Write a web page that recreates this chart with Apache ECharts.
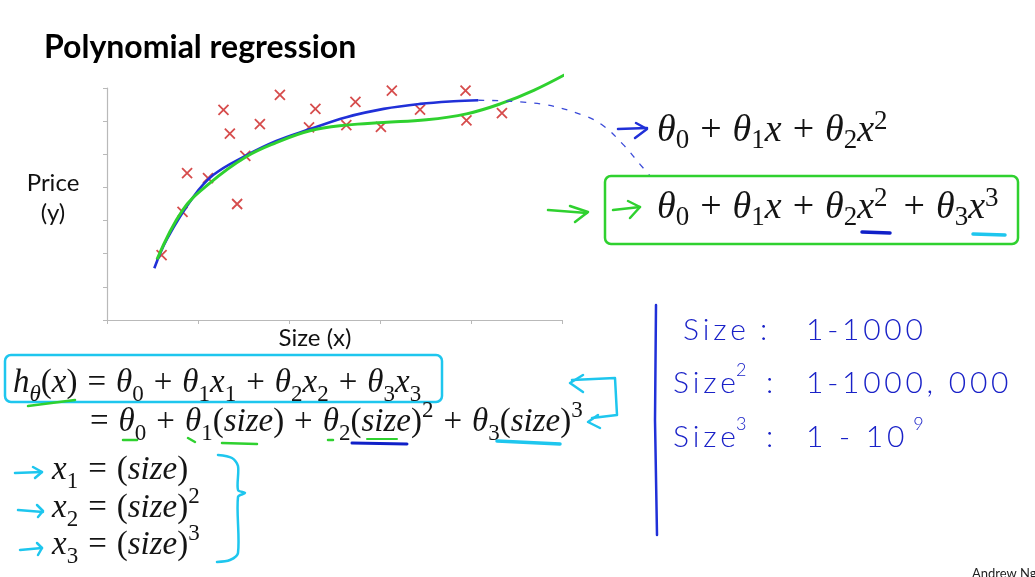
<!DOCTYPE html>
<html><head><meta charset="utf-8">
<script src="https://cdn.jsdelivr.net/npm/echarts@6/dist/echarts.min.js"></script>
<style>html,body{margin:0;padding:0;background:#fff;overflow:hidden}#c{width:1035px;height:577px}</style>
</head><body><div id="c"></div>
<script>
// ---- data (axis units: size 0..5, price 0..7) ----
const sizeX  = [0.60,0.83,0.88,1.11,1.28,1.35,1.43,1.52,1.68,1.90,2.22,2.29,2.63,2.73,3.01,3.13,3.44,3.94,3.95,4.34];
const priceY = [1.96,3.26,4.43,4.28,6.34,5.62,3.50,4.95,5.91,6.79,5.81,6.37,5.88,6.58,5.83,6.92,6.35,6.92,6.02,6.24];
const quadX  = [0.52,0.66,0.95,1.17,1.52,1.86,2.23,2.63,3.04,3.44,3.81,4.08];
const quadY  = [1.56,2.45,3.72,4.38,4.95,5.40,5.76,6.12,6.37,6.52,6.60,6.63];
const quadTailX = [4.08,4.76,5.23,5.45,5.67,5.86,5.97];
const quadTailY = [6.63,6.52,6.18,5.87,5.30,4.69,4.34];
const cubicX = [0.55,0.83,1.13,1.52,1.86,2.23,2.63,3.04,3.51,3.95,4.32,4.69,5.09];
const cubicY = [1.83,3.31,4.13,4.91,5.35,5.71,5.88,5.96,6.04,6.22,6.52,6.93,7.49];
const xTicks = [0,1,2,3,4,5];
const yTicks = [0,1,2,3,4,5,6,7];
const title = 'Polynomial regression';
const xName = 'Size (x)';
const yName = 'Price\n(y)';
const quadFormula  = 'θ_0+θ_1x+θ_2x^2';
const cubicFormula = 'θ_0+θ_1x+θ_2x^2+θ_3x^3';
const hypLine1 = 'h_θ(x)=θ_0+θ_1x_1+θ_2x_2+θ_3x_3';
const hypLine2 = '=θ_0+θ_1(size)+θ_2(size)^2+θ_3(size)^3';
const featLines = ['x_1=(size)', 'x_2=(size)^2', 'x_3=(size)^3'];
const rangeNames = ['Size', 'Size', 'Size'];
const rangePows = ['', '2', '3'];
const rangeVals = ['1-1000', '1-1000, 000', '1 - 10'];
const rangeValPows = ['', '', '9'];

const pairs = (xs, ys) => xs.map((v, i) => [v, ys[i]]);

function mathRich(src) {
  const seg = []; let i = 0;
  while (i < src.length) {
    let c = src[i], st;
    if (c === '_') { c = src[i + 1]; st = /[a-zθ]/.test(c) ? 'si' : 's'; i += 2; }
    else if (c === '^') { c = src[i + 1]; st = 'p'; i += 2; }
    else if (c === '+' || c === '=') { st = 'o'; i++; seg.push([st, c]); continue; }
    else { st = /[a-zθ]/.test(c) ? 'i' : 'r'; i++; }
    if (seg.length && seg[seg.length - 1][0] === st) seg[seg.length - 1][1] += c; else seg.push([st, c]);
  }
  return seg.map(s => '{' + s[0] + '|' + s[1] + '}').join('');
}
function richFor(F, supPad) {
  const L = 46, base = { fontFamily: 'Liberation Serif', fontSize: F, lineHeight: L, fill: '#141414' };
  const sub = Math.round(F * 0.7), pad = Math.round(F * 0.3);
  const sL = L - 2 * Math.round(F * 0.21), pL = L - 2 * Math.round(F * 0.27);
  return {
    r: base,
    o: Object.assign({}, base, { padding: [0, pad, 0, pad] }),
    i: Object.assign({}, base, { fontStyle: 'italic' }),
    s: Object.assign({}, base, { fontSize: sub, lineHeight: sL, verticalAlign: 'bottom' }),
    si: Object.assign({}, base, { fontSize: sub, fontStyle: 'italic', lineHeight: sL, verticalAlign: 'bottom' }),
    p: Object.assign({}, base, { fontSize: sub, lineHeight: pL, verticalAlign: 'top', padding: [0, supPad || 0, 0, 0] })
  };
}
function mathText(src, x, y, F, supPad) {
  return { type: 'text', x: x, y: y, z: 10, style: { text: mathRich(src), rich: richFor(F, supPad), verticalAlign: 'middle', align: 'left' } };
}
function stroke(points, color, w, smooth) {
  return { type: 'polyline', z: 5, shape: { points: points, smooth: smooth || 0 }, style: { stroke: color, lineWidth: w || 2.2, fill: null, lineCap: 'round', lineJoin: 'round' } };
}
const BLUE = '#2030d8', GREEN = '#2fd12f', CYAN = '#1ec6ee', HAND = '#1a22c8';
const spaced = s => s.split('').join('\u2009');
const handRich = {
  a: { fontFamily: 'Lato', fontWeight: 300, fontSize: 30, fill: HAND, lineHeight: 44 },
  p: { fontFamily: 'Lato', fontWeight: 300, fontSize: 18, fill: HAND, lineHeight: 22, verticalAlign: 'top' }
};
function handText(i, y, x) {
  let name = '{a|' + spaced(rangeNames[i]) + '}' + (rangePows[i] ? '{p|' + rangePows[i] + '}' : '');
  let val = '{a|' + spaced(rangeVals[i]) + '}' + (rangeValPows[i] ? '{p|\u2002' + rangeValPows[i] + '}' : '');
  return [
    { type: 'text', x: x, y: y, style: { text: name, rich: handRich, verticalAlign: 'middle' } },
    { type: 'text', x: i === 0 ? 760 : 766, y: y, style: { text: '{a|:}', rich: handRich, verticalAlign: 'middle' } },
    { type: 'text', x: 806, y: y, style: { text: val, rich: handRich, verticalAlign: 'middle' } }
  ];
}

const graphics = [
  { type: 'text', x: 44, y: 48, style: { text: title, font: 'bold 32px Lato', fill: '#000', verticalAlign: 'middle' } },
  { type: 'text', x: 53, y: 198, style: { text: yName, font: '24px Lato', fill: '#111', align: 'center', verticalAlign: 'middle', lineHeight: 30 } },
  { type: 'text', x: 315, y: 338, style: { text: xName, font: '24px Lato', fill: '#111', align: 'center', verticalAlign: 'middle' } },
  // right formulas
  mathText(quadFormula, 657, 131, 38, 5),
  mathText(cubicFormula, 657, 208, 38, 5),
  { type: 'rect', z: 5, shape: { x: 605, y: 176, width: 413, height: 68, r: 6 }, style: { stroke: GREEN, lineWidth: 2.5, fill: null } },
  stroke([[618,129],[647,128]], BLUE, 2.5), stroke([[636,123],[647,129],[635,138]], BLUE, 2.5),
  stroke([[548,210],[587,213]], GREEN, 2.5), stroke([[570,206],[588,212],[575,222]], GREEN, 2.5),
  stroke([[613,210],[640,207]], GREEN, 2.5), stroke([[628,201],[640,207],[630,218]], GREEN, 2.5),
  stroke([[862,232],[890,233]], '#1020c8', 3.5), stroke([[973,234],[1005,235]], CYAN, 3.5),
  // lower formulas
  mathText(hypLine1, 13, 383, 33),
  mathText(hypLine2, 80, 422, 33),
  { type: 'rect', z: 5, shape: { x: 5, y: 355, width: 437, height: 47, r: 6 }, style: { stroke: CYAN, lineWidth: 2.5, fill: null } },
  stroke([[28,406],[75,400]], GREEN, 2.5),
  stroke([[123,440],[137,440]], GREEN, 2.5), stroke([[188,438],[195,442]], GREEN, 2.5),
  stroke([[222,443],[257,444]], GREEN, 2.5), stroke([[328,440],[333,440]], GREEN, 2.5),
  stroke([[352,443],[407,444]], '#1020c8', 3), stroke([[367,439],[397,439]], GREEN, 2),
  stroke([[497,441],[560,444]], CYAN, 3.5),
  stroke([[583,375],[570,383],[583,392]], CYAN, 2.5),
  stroke([[572,380],[615,378],[617,415],[592,418]], CYAN, 2.5),
  stroke([[598,415],[588,422],[600,428]], CYAN, 2.5),
  mathText(featLines[0], 52, 470, 33),
  mathText(featLines[1], 52, 508, 33),
  mathText(featLines[2], 52, 545, 33),
  stroke([[15,473],[42,472]], CYAN, 2.5), stroke([[33,467],[42,472],[35,478]], CYAN, 2.5),
  stroke([[18,510],[43,512]], CYAN, 2.5), stroke([[37,505],[43,511],[38,517]], CYAN, 2.5),
  stroke([[20,550],[42,548]], CYAN, 2.5), stroke([[37,543],[42,548],[38,555]], CYAN, 2.5),
  stroke([[218,455],[232,458],[238,466],[238,490],[245,493],[238,497],[238,553],[230,560],[217,562]], CYAN, 2.5, 0.3),
  // right notes
  stroke([[656,305],[655,420],[657,535]], BLUE, 2.5)
].concat(handText(0, 330, 683), handText(1, 383, 673), handText(2, 437, 673), [
  { type: 'text', x: 972, y: 574, style: { text: 'Andrew Ng', font: '13px Lato', fill: '#222', verticalAlign: 'middle' } }
]);

const chart = echarts.init(document.getElementById('c'));
const axisStyle = { show: true, lineStyle: { color: '#b9b9b9', width: 1.2 } };
chart.setOption({
  backgroundColor: '#fff',
  animation: false,
  grid: { left: 107, top: 88, width: 455, height: 232, containLabel: false, outerBoundsMode: 'none' },
  xAxis: { type: 'value', min: xTicks[0], max: xTicks[xTicks.length - 1], interval: 1,
    axisLine: axisStyle, axisTick: { show: true, length: 4, lineStyle: { color: '#b9b9b9' } },
    axisLabel: { show: false }, splitLine: { show: false } },
  yAxis: { type: 'value', min: yTicks[0], max: yTicks[yTicks.length - 1], interval: 1,
    axisLine: axisStyle, axisTick: { show: true, length: 4, lineStyle: { color: '#b9b9b9' } },
    axisLabel: { show: false }, splitLine: { show: false } },
  series: [
    { type: 'scatter', data: pairs(sizeX, priceY), symbol: 'path://M0,0L10,10M10,0L0,10', symbolSize: 10,
      itemStyle: { color: 'rgba(0,0,0,0)', borderColor: '#cc1f1f', borderWidth: 1.8 } },
    { type: 'line', data: pairs(quadX, quadY), smooth: 0.4, showSymbol: false, clip: false,
      lineStyle: { color: BLUE, width: 2.6 } },
    { type: 'line', data: pairs(cubicX, cubicY), smooth: 0.4, showSymbol: false, clip: false,
      lineStyle: { color: GREEN, width: 3 } }
  ],
  graphic: graphics
});
// dashed extension of the quadratic fit beyond the axis (mapped through the chart's own scales)
const tailPts = pairs(quadTailX, quadTailY).map(p => chart.convertToPixel({ gridIndex: 0 }, p));
chart.setOption({ graphic: graphics.concat([{ type: 'polyline', z: 4, shape: { points: tailPts, smooth: 0.4 },
  style: { stroke: '#3a4ad8', lineWidth: 1.3, fill: null, lineDash: [6, 8] } }]) });
</script></body></html>
